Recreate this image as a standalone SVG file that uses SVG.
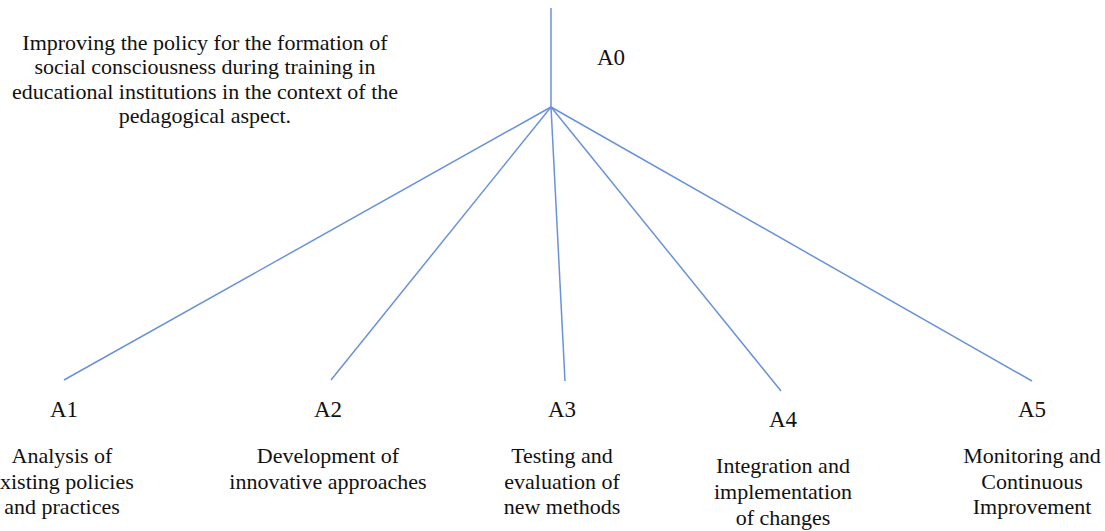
<svg xmlns="http://www.w3.org/2000/svg" width="1105" height="531" viewBox="0 0 1105 531">
<style>
.c{stroke:#6a92d8;stroke-width:1.5;fill:none}
.t{font-family:'Liberation Serif',serif;font-size:22px;fill:#111;text-anchor:middle}
.l{font-family:'Liberation Serif',serif;font-size:23px;fill:#111;text-anchor:middle}
</style>
<rect width="1105" height="531" fill="#fff"/>
<g id="connectors">
<line class="c" x1="551" y1="8" x2="551" y2="107"/>
<line class="c" x1="551" y1="107" x2="64" y2="380"/>
<line class="c" x1="551" y1="107" x2="331" y2="380"/>
<line class="c" x1="551" y1="107" x2="565" y2="381"/>
<line class="c" x1="551" y1="107" x2="781" y2="391"/>
<line class="c" x1="551" y1="107" x2="1032" y2="381"/>
</g>
<g id="A0">
<text class="t"><tspan x="205" y="50">Improving the policy for the formation of</tspan><tspan x="205" y="74">social consciousness during training in</tspan><tspan x="205" y="99">educational institutions in the context of the</tspan><tspan x="205" y="123">pedagogical aspect.</tspan></text>
<text class="l" x="611" y="65">A0</text>
</g>
<g id="A1">
<text class="l" x="64" y="417">A1</text>
<text class="t"><tspan x="62" y="463">Analysis of</tspan><tspan x="62" y="489">existing policies</tspan><tspan x="62" y="514">and practices</tspan></text>
</g>
<g id="A2">
<text class="l" x="328" y="417">A2</text>
<text class="t"><tspan x="328" y="463">Development of</tspan><tspan x="328" y="489">innovative approaches</tspan></text>
</g>
<g id="A3">
<text class="l" x="562" y="417">A3</text>
<text class="t"><tspan x="562" y="463">Testing and</tspan><tspan x="562" y="489">evaluation of</tspan><tspan x="562" y="514">new methods</tspan></text>
</g>
<g id="A4">
<text class="l" x="783" y="427">A4</text>
<text class="t"><tspan x="783" y="473">Integration and</tspan><tspan x="783" y="499">implementation</tspan><tspan x="783" y="525">of changes</tspan></text>
</g>
<g id="A5">
<text class="l" x="1032" y="417">A5</text>
<text class="t"><tspan x="1032" y="463">Monitoring and</tspan><tspan x="1032" y="489">Continuous</tspan><tspan x="1032" y="514">Improvement</tspan></text>
</g>
</svg>
